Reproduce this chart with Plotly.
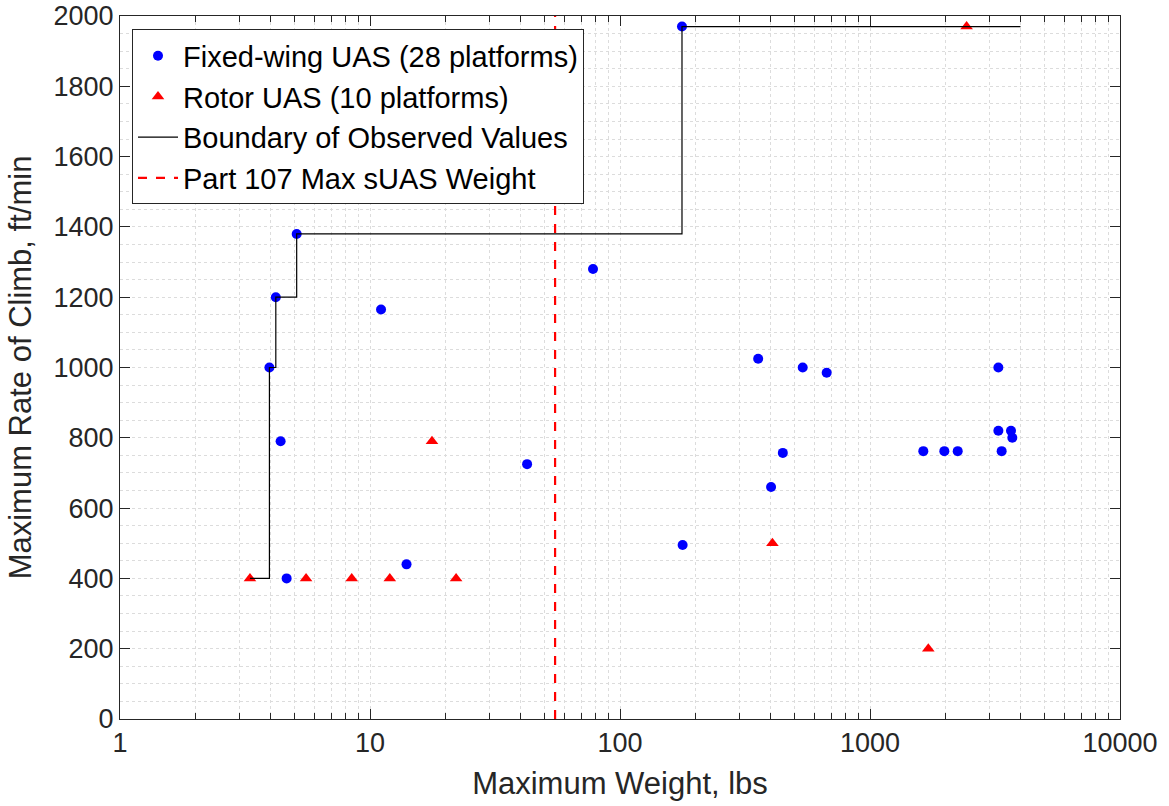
import plotly.graph_objects as go

# Fixed-wing UAS: maximum weight (lbs) and max rate of climb (ft/min)
fw_weight = [3.96, 4.2, 5.09, 4.39, 4.64, 11.07, 14.0, 42.5, 78, 177, 178,
             357, 538, 671, 448, 402, 1634, 1983, 2243, 3262, 3262, 3664, 3709, 3362]
fw_climb = [1000, 1200, 1380, 790, 400, 1165, 440, 725, 1280, 1970, 495,
            1025, 1000, 985, 757, 660, 762, 762, 762, 1000, 820, 820, 800, 762]

# Rotor UAS
rotor_weight = [3.31, 5.55, 8.45, 12.0, 22.1, 17.7, 407, 1711, 2434]
rotor_climb = [400, 400, 400, 400, 400, 790, 500, 200, 1970]

# Boundary of observed values (step line)
bound_weight = [3.31, 3.96, 4.2, 5.09, 177, 4000]
bound_climb = [400, 1000, 1200, 1380, 1970, 1970]

# Part 107 max sUAS weight
part107_weight = [55, 55]
part107_climb = [0, 2000]

x_tickvals = [1, 10, 100, 1000, 10000]
x_ticktext = ["1", "10", "100", "1000", "10000"]
x_minor = [m * 10 ** k for k in range(4) for m in range(2, 10)]

FONT = "Liberation Sans, Arial, Helvetica, sans-serif"
TXT = "#262626"

fig = go.Figure()
fig.add_trace(go.Scatter(x=fw_weight, y=fw_climb, mode="markers",
                         name="Fixed-wing UAS (28 platforms)",
                         marker=dict(symbol="circle", size=10, color="#0000FF")))
fig.add_trace(go.Scatter(x=rotor_weight, y=rotor_climb, mode="markers",
                         name="Rotor UAS (10 platforms)",
                         marker=dict(symbol="triangle-up", size=11, color="#FF0000")))
fig.add_trace(go.Scatter(x=bound_weight, y=bound_climb, mode="lines",
                         name="Boundary of Observed Values",
                         line=dict(color="black", width=1.2, shape="hv")))
fig.add_trace(go.Scatter(x=part107_weight, y=part107_climb, mode="lines",
                         name="Part 107 Max sUAS Weight",
                         line=dict(color="#FF0000", width=2.2, dash="dash")))

grid = "#dcdcdc"
fig.update_layout(
    width=1169, height=806,
    margin=dict(l=120, r=49, t=16, b=87, autoexpand=False),
    paper_bgcolor="white", plot_bgcolor="white",
    font=dict(family=FONT, color=TXT, size=27),
    showlegend=True,
    legend=dict(x=0.012, y=0.981, xanchor="left", yanchor="top",
                bgcolor="white", bordercolor=TXT, borderwidth=1,
                font=dict(size=29, color="black"), itemwidth=40,
                traceorder="normal"),
    xaxis=dict(type="log", range=[0, 4], tickvals=x_tickvals, ticktext=x_ticktext,
               automargin=False,
               ticks="inside", ticklen=10, tickcolor=TXT, tickwidth=1,
               showline=True, linecolor=TXT, linewidth=1, mirror="allticks",
               showgrid=True, gridcolor=grid, griddash="dot", gridwidth=1,
               zeroline=False,
               minor=dict(tickvals=x_minor, ticks="inside", ticklen=6, tickcolor=TXT,
                          showgrid=True, gridcolor=grid, griddash="dot", gridwidth=1),
               title=dict(text="Maximum Weight, lbs", font=dict(size=31, color=TXT), standoff=14),
               tickfont=dict(size=27, color=TXT)),
    yaxis=dict(range=[0, 2000], dtick=200, tick0=0,
               automargin=False,
               ticks="inside", ticklen=10, tickcolor=TXT, tickwidth=1,
               showline=True, linecolor=TXT, linewidth=1, mirror="allticks",
               showgrid=True, gridcolor=grid, griddash="dot", gridwidth=1,
               zeroline=False,
               minor=dict(dtick=50, ticks="", showgrid=True, gridcolor=grid,
                          griddash="dot", gridwidth=1),
               title=dict(text="Maximum Rate of Climb, ft/min", font=dict(size=31, color=TXT), standoff=12),
               tickfont=dict(size=27, color=TXT)),
)

fig.write_html("out.html")
